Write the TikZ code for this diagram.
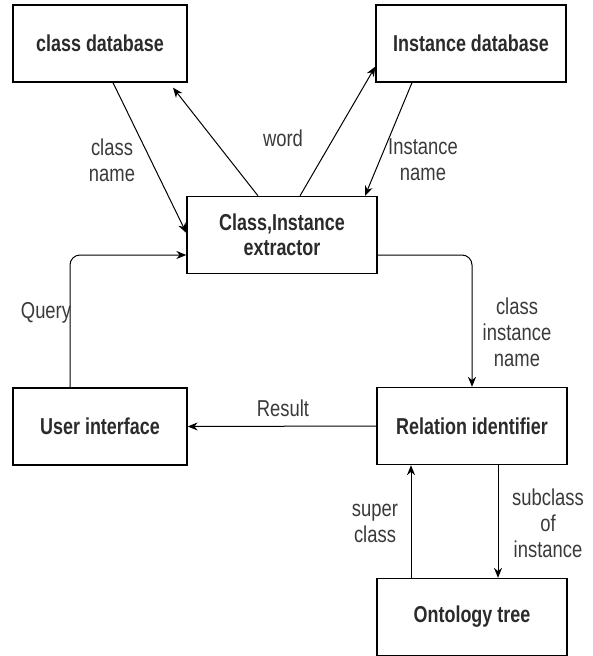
\documentclass[tikz,border=0pt]{standalone}
\usepackage{fontspec}
\setmainfont{Liberation Sans}[FakeStretch=0.8]
\newfontfamily\boxfont{Liberation Sans}[FakeStretch=0.78]
\usepackage{tikz}
\usetikzlibrary{arrows.meta,calc}
\definecolor{inkgray}{HTML}{2B2B2B}
\definecolor{labelgray}{HTML}{3A3A3A}
\tikzset{
  box/.style={draw=black, fill=white, line width=1.3pt, align=center, inner sep=4pt,
    minimum width=190pt, minimum height=77pt, text=inkgray,
    font=\boxfont\bfseries\fontsize{23}{25}\selectfont},
  smallbox/.style={box, minimum width=174pt},
  lbl/.style={align=center, inner sep=0pt, text=labelgray, font=\fontsize{23}{26}\selectfont},
  arr/.style={-{Stealth[length=10pt,width=8pt]}, line width=1pt, black},
}

\begin{document}
\begin{tikzpicture}[x=1pt,y=-1pt]
  \useasboundingbox (0,0) rectangle (592,656);
  \node[smallbox] (cdb) at (100,43.5) {class database};
  \node[box] (idb) at (471,43.5) {Instance database};
  \node[box] (ext) at (282,235) {Class,Instance\\extractor};
  \node[smallbox] (ui) at (100,426.5) {User interface};
  \node[box] (rel) at (472,426) {Relation identifier};
  \node[box] (ont) at (472,617) {Ontology tree};

  \draw[arr] ([xshift=13pt]cdb.south) -- ([yshift=2pt]ext.west);
  \draw[arr] ([xshift=-24pt]ext.north) -- ([xshift=73pt,yshift=-5pt]cdb.south);
  \draw[arr] ([xshift=18pt]ext.north) -- ([yshift=-23pt]idb.west);
  \draw[arr] ([xshift=-59pt]idb.south) -- ([xshift=83pt]ext.north);
  \draw[arr, rounded corners=10pt] ([xshift=-30pt]ui.north) |- ([yshift=-20pt]ext.west);
  \draw[arr, rounded corners=10pt] ([yshift=-20pt]ext.east) -| (rel.north);
  \draw[arr] (rel.west) -- (ui.east);
  \draw[arr] ([xshift=-61pt]ont.north) -- ([xshift=-61pt]rel.south);
  \draw[arr] ([xshift=26pt]rel.south) -- ([xshift=26pt]ont.north);

  \node[lbl] (lclass) at (112,160) {class\\name};
  \node[lbl] (lword) at (283,138) {word};
  \node[lbl] (linst) at (423,160) {Instance\\name};
  \node[lbl] (lquery) at (46,313) {Query};
  \node[lbl] (lcin) at (517,332) {class\\instance\\name};
  \node[lbl] (lres) at (283,408) {Result};
  \node[lbl] (lsuper) at (375,523) {super\\class};
  \node[lbl] (lsub) at (548,523) {subclass\\of\\instance};
\end{tikzpicture}
\end{document}
